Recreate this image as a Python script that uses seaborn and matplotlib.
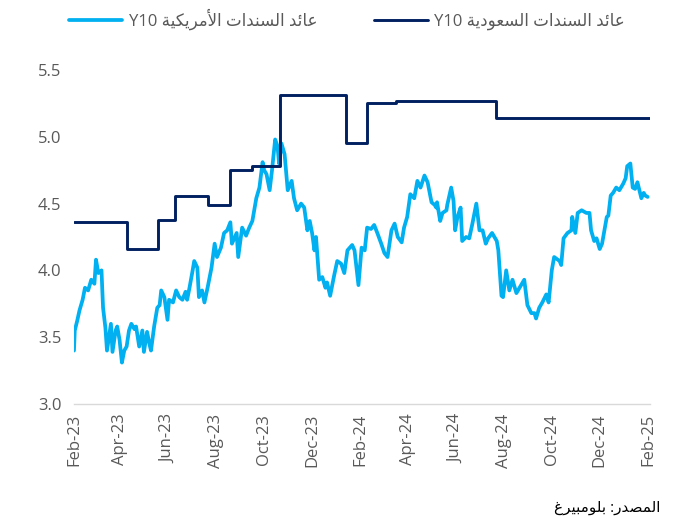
import pandas as pd
import seaborn as sns
import matplotlib.pyplot as plt
import matplotlib.dates as mdates

# Saudi 10Y yield (step series: date of each change, level)
saudi_dates = ['2023-02-01', '2023-04-09', '2023-05-19', '2023-06-10', '2023-07-22', '2023-08-19',
               '2023-09-15', '2023-10-21', '2024-01-13', '2024-02-09', '2024-03-17', '2024-07-22',
               '2025-02-03']
saudi_vals = [4.36, 4.16, 4.38, 4.56, 4.49, 4.75, 4.78, 5.31, 4.95, 5.25, 5.27, 5.14, 5.14]

# US 10Y yield
us_dates = ['2023-02-01', '2023-02-02', '2023-02-05', '2023-02-08', '2023-02-12', '2023-02-15', '2023-02-19',
            '2023-02-23', '2023-02-27', '2023-03-01', '2023-03-04', '2023-03-08', '2023-03-10', '2023-03-13',
            '2023-03-15', '2023-03-18', '2023-03-20', '2023-03-22', '2023-03-26', '2023-03-28', '2023-03-31',
            '2023-04-03', '2023-04-06', '2023-04-09', '2023-04-12', '2023-04-15', '2023-04-19', '2023-04-21',
            '2023-04-25', '2023-04-29', '2023-05-01', '2023-05-05', '2023-05-08', '2023-05-10', '2023-05-14',
            '2023-05-18', '2023-05-21', '2023-05-23', '2023-05-27', '2023-05-31', '2023-06-02', '2023-06-07',
            '2023-06-11', '2023-06-15', '2023-06-19', '2023-06-23', '2023-06-25', '2023-06-28', '2023-07-02',
            '2023-07-04', '2023-07-08', '2023-07-10', '2023-07-14', '2023-07-17', '2023-07-21', '2023-07-26',
            '2023-07-30', '2023-08-02', '2023-08-07', '2023-08-11', '2023-08-15', '2023-08-19', '2023-08-21',
            '2023-08-27', '2023-08-29', '2023-09-03', '2023-09-08', '2023-09-12', '2023-09-16', '2023-09-21',
            '2023-09-25', '2023-09-29', '2023-10-01', '2023-10-04', '2023-10-08', '2023-10-11', '2023-10-15',
            '2023-10-18', '2023-10-20', '2023-10-23', '2023-10-27', '2023-10-31', '2023-11-05', '2023-11-08',
            '2023-11-12', '2023-11-17', '2023-11-21', '2023-11-25', '2023-11-28', '2023-12-01', '2023-12-04',
            '2023-12-06', '2023-12-10', '2023-12-14', '2023-12-18', '2023-12-20', '2023-12-24', '2023-12-29',
            '2024-01-02', '2024-01-07', '2024-01-11', '2024-01-15', '2024-01-21', '2024-01-24', '2024-01-29',
            '2024-02-02', '2024-02-06', '2024-02-09', '2024-02-14', '2024-02-18', '2024-02-22', '2024-02-27',
            '2024-03-02', '2024-03-06', '2024-03-11', '2024-03-15', '2024-03-19', '2024-03-24', '2024-03-27',
            '2024-03-31', '2024-04-04', '2024-04-09', '2024-04-13', '2024-04-17', '2024-04-22', '2024-04-26',
            '2024-05-01', '2024-05-05', '2024-05-07', '2024-05-08', '2024-05-12', '2024-05-15', '2024-05-20',
            '2024-05-21', '2024-05-26', '2024-05-29', '2024-05-31', '2024-06-03', '2024-06-07', '2024-06-09',
            '2024-06-14', '2024-06-18', '2024-06-22', '2024-06-27', '2024-07-01', '2024-07-05', '2024-07-09',
            '2024-07-12', '2024-07-17', '2024-07-23', '2024-07-25', '2024-07-29', '2024-07-31', '2024-08-04',
            '2024-08-08', '2024-08-12', '2024-08-17', '2024-08-21', '2024-08-27', '2024-08-31', '2024-09-05',
            '2024-09-09', '2024-09-11', '2024-09-15', '2024-09-19', '2024-09-24', '2024-09-27', '2024-10-01',
            '2024-10-04', '2024-10-11', '2024-10-13', '2024-10-16', '2024-10-21', '2024-10-26', '2024-10-27',
            '2024-10-31', '2024-11-03', '2024-11-08', '2024-11-14', '2024-11-18', '2024-11-20', '2024-11-24',
            '2024-11-27', '2024-12-01', '2024-12-04', '2024-12-10', '2024-12-12', '2024-12-15', '2024-12-18',
            '2024-12-22', '2024-12-26', '2024-12-31', '2025-01-03', '2025-01-05', '2025-01-09', '2025-01-12',
            '2025-01-15', '2025-01-18', '2025-01-23', '2025-01-26', '2025-01-28', '2025-01-31']
us_vals = [3.40, 3.55, 3.62, 3.70, 3.78, 3.87, 3.85,
           3.93, 3.90, 4.08, 3.98, 4.00, 3.72, 3.57,
           3.40, 3.52, 3.60, 3.39, 3.55, 3.58, 3.48,
           3.31, 3.40, 3.43, 3.55, 3.60, 3.56, 3.58,
           3.43, 3.55, 3.39, 3.54, 3.45, 3.40, 3.58,
           3.72, 3.74, 3.85, 3.80, 3.63, 3.78, 3.76,
           3.85, 3.80, 3.78, 3.84, 3.78, 3.87, 4.00,
           4.07, 4.02, 3.80, 3.85, 3.76, 3.87, 4.02,
           4.20, 4.10, 4.17, 4.28, 4.30, 4.36, 4.20,
           4.28, 4.10, 4.32, 4.26, 4.32, 4.37, 4.54,
           4.62, 4.81, 4.75, 4.72, 4.60, 4.75, 4.98,
           4.93, 4.80, 4.95, 4.87, 4.60, 4.67, 4.54,
           4.45, 4.50, 4.47, 4.30, 4.37, 4.28, 4.15,
           4.25, 3.93, 3.95, 3.87, 3.91, 3.81, 3.96,
           4.07, 4.05, 3.98, 4.15, 4.19, 4.15, 3.89,
           4.17, 4.15, 4.32, 4.31, 4.34, 4.28, 4.20,
           4.13, 4.10, 4.30, 4.35, 4.25, 4.21, 4.32,
           4.40, 4.57, 4.54, 4.67, 4.62, 4.71, 4.66,
           4.51, 4.49, 4.47, 4.51, 4.37, 4.43, 4.45,
           4.49, 4.62, 4.52, 4.30, 4.40, 4.47, 4.22,
           4.25, 4.24, 4.35, 4.50, 4.30, 4.30, 4.20,
           4.24, 4.28, 4.22, 4.15, 3.81, 3.80, 4.00,
           3.85, 3.93, 3.83, 3.87, 3.93, 3.74, 3.68,
           3.68, 3.64, 3.72, 3.76, 3.82, 3.76, 4.00,
           4.10, 4.07, 4.04, 4.24, 4.28, 4.30, 4.40,
           4.28, 4.43, 4.45, 4.43, 4.43, 4.30, 4.22,
           4.24, 4.16, 4.20, 4.40, 4.41, 4.56, 4.58,
           4.62, 4.60, 4.65, 4.69, 4.78, 4.80, 4.62,
           4.61, 4.66, 4.54, 4.58, 4.56, 4.55]

label_saudi = 'عائد السندات السعودية'
label_us = 'عائد السندات الأمريكية'
source_text = 'المصدر: بلومبيرغ'

# matplotlib has no Arabic shaping: map letters to presentation forms and lay out right-to-left
AR_FORMS = {'ا': (0xFE8D, False), 'أ': (0xFE83, False), 'ب': (0xFE8F, True), 'ة': (0xFE93, False),
            'ت': (0xFE95, True), 'ئ': (0xFE89, True), 'د': (0xFEA9, False), 'ر': (0xFEAD, False),
            'س': (0xFEB1, True), 'ص': (0xFEB9, True), 'ع': (0xFEC9, True), 'غ': (0xFECD, True),
            'ك': (0xFED9, True), 'ل': (0xFEDD, True), 'م': (0xFEE1, True), 'ن': (0xFEE5, True),
            'و': (0xFEED, False), 'ي': (0xFEF1, True)}
LAM_ALEF = {'ا': 0xFEFB, 'أ': 0xFEF7}


def shape_word(w):
    out = []
    i = 0
    while i < len(w):
        c = w[i]
        if c not in AR_FORMS:
            out.append(c)
            i += 1
            continue
        prev = w[i - 1] if i > 0 else ''
        joins_prev = prev in AR_FORMS and AR_FORMS[prev][1]
        if c == 'ل' and i + 1 < len(w) and w[i + 1] in LAM_ALEF:
            out.append(chr(LAM_ALEF[w[i + 1]] + int(joins_prev)))
            i += 2
            continue
        base, dual = AR_FORMS[c]
        joins_next = dual and i + 1 < len(w) and w[i + 1] in AR_FORMS
        if joins_prev and joins_next:
            form = 3
        elif joins_next:
            form = 2
        elif joins_prev:
            form = 1
        else:
            form = 0
        out.append(chr(base + form))
        i += 1
    return ''.join(out)


def rtl(text):
    words = text.split(' ')[::-1]
    return ' '.join(shape_word(w)[::-1] if any(ch in AR_FORMS for ch in w) else w for w in words)


df_saudi = pd.DataFrame({'date': pd.to_datetime(saudi_dates), 'yield': saudi_vals})
df_us = pd.DataFrame({'date': pd.to_datetime(us_dates), 'yield': us_vals})

sns.set_style('white')
plt.rcParams['font.family'] = ['Open Sans', 'DejaVu Sans']
text_col = '#595959'

fig = plt.figure(figsize=(6.94, 5.20), dpi=100)
ax = fig.add_axes([0.1066, 0.2231, 0.8300, 0.6423])

sns.lineplot(x='date', y='yield', data=df_us, color='#00B0F0', linewidth=2.7,
             label='Y10 ' + rtl(label_us), ax=ax)
sns.lineplot(x='date', y='yield', data=df_saudi, color='#002060', linewidth=2.1,
             drawstyle='steps-post', label='Y10 ' + rtl(label_saudi), ax=ax)

ax.set_xlim(pd.Timestamp('2023-02-01'), pd.Timestamp('2025-02-03'))
ax.set_ylim(3.0, 5.5)
ax.set_yticks([3.0, 3.5, 4.0, 4.5, 5.0, 5.5])
ax.yaxis.set_major_formatter(plt.FormatStrFormatter('%.1f'))
ax.xaxis.set_major_locator(mdates.MonthLocator(bymonth=[2, 4, 6, 8, 10, 12]))
ax.xaxis.set_major_formatter(mdates.DateFormatter('%b-%y'))
ax.set_xlabel('')
ax.set_ylabel('')

for s in ['top', 'right', 'left']:
    ax.spines[s].set_visible(False)
ax.spines['bottom'].set_color('#D9D9D9')
ax.spines['bottom'].set_linewidth(1.0)
ax.tick_params(axis='x', rotation=90, length=4, width=1, color='#D9D9D9', labelsize=12,
               labelcolor=text_col, pad=3)
ax.tick_params(axis='y', length=0, labelsize=12, labelcolor=text_col, pad=9)

handles, labels = ax.get_legend_handles_labels()
ax.get_legend().remove()
fig.legend(handles, labels, loc='center', bbox_to_anchor=(0.5, 0.962), ncol=2, frameon=False,
           fontsize=12, handlelength=3.2, handletextpad=0.4, columnspacing=3.4, labelcolor=text_col)

fig.text(0.951, 0.023, rtl(source_text), ha='right', va='center', fontsize=11, color='#000000')

plt.savefig('out.png', dpi=100)
